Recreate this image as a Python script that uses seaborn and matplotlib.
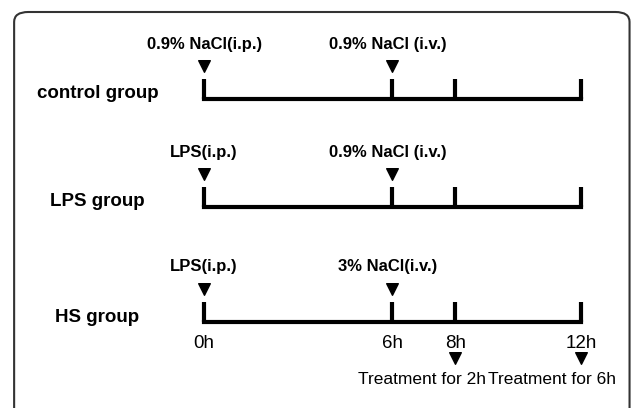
import pandas as pd
import seaborn as sns
import matplotlib.pyplot as plt
from matplotlib.patches import FancyBboxPatch

# timeline data
times = [0, 6, 8, 12]
time_labels = ["0h", "6h", "8h", "12h"]
groups = ["control group", "LPS group", "HS group"]
ip_labels = ["0.9% NaCl(i.p.)", "LPS(i.p.)", "LPS(i.p.)"]
iv_labels = ["0.9% NaCl (i.v.)", "0.9% NaCl (i.v.)", "3% NaCl(i.v.)"]
ip_time = 0
iv_time = 6
sample_times = [8, 12]
sample_labels = ["Treatment for 2h", "Treatment for 6h"]

sns.set_theme(style="white")
plt.rcParams["font.family"] = ["Liberation Sans", "DejaVu Sans"]
plt.rcParams["text.color"] = "black"

fig = plt.figure(figsize=(6.33, 4.08), dpi=100)
ax = fig.add_axes([0, 0, 1, 1])
# x in hours, y in pixel rows (top = 0)
ax.set_xlim(-6.5, 13.66)
ax.set_ylim(408, 0)
ax.axis("off")

# rounded frame
ax.add_patch(FancyBboxPatch((-6.05, 12), 19.6, 420, boxstyle="round,pad=0,rounding_size=0.45",
                            mutation_aspect=22, transform=ax.transData,
                            fc="white", ec="#333333", lw=1.5, zorder=0))

row_y = [99, 207, 322]
markers = []
for g, y in zip(groups, row_y):
    ax.hlines(y, times[0], times[-1], color="black", lw=3, capstyle="projecting")
    ax.vlines(times, y - 20, y, color="black", lw=3)
    ax.text(-3.4, y - 5, g, ha="center", va="center", fontsize=13.5, fontweight="bold")
    markers.append({"t": ip_time, "y": y - 33})
    markers.append({"t": iv_time, "y": y - 33})

for i, y in enumerate(row_y):
    ax.text(ip_time, y - 55, ip_labels[i], ha="center", va="center", fontsize=12, fontweight="bold")
    ax.text(iv_time - 0.15, y - 55, iv_labels[i], ha="center", va="center", fontsize=12, fontweight="bold")

# time axis labels under the HS row
for t, lab in zip(times, time_labels):
    ax.text(t, row_y[-1] + 21, lab, ha="center", va="center", fontsize=13.5)

for t in sample_times:
    markers.append({"t": t, "y": row_y[-1] + 36})

df = pd.DataFrame(markers)
sns.scatterplot(data=df, x="t", y="y", marker="v", s=70, color="black",
                edgecolor="black", linewidth=1, ax=ax, zorder=5)
ax.set_xlim(-6.5, 13.66)
ax.set_ylim(408, 0)
ax.axis("off")

offsets = [-33, -29]
for t, lab, off in zip(sample_times, sample_labels, offsets):
    ax.annotate(lab, (t, row_y[-1] + 58), xytext=(off, 0), textcoords="offset pixels",
                ha="center", va="center", fontsize=12.5)

fig.savefig("out.png", dpi=100)
